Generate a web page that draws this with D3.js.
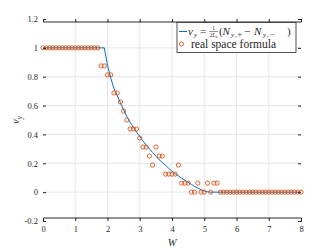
<!DOCTYPE html>
<html>
<head>
<meta charset="utf-8">
<script src="https://cdn.jsdelivr.net/npm/d3@7"></script>
<style>
  body { margin: 0; background: #fff; }
  text { font-family: "Liberation Serif", "DejaVu Serif", serif; fill: #262626; }
</style>
</head>
<body>
<div id="content"></div>
<script>
var xTicks = [0, 1, 2, 3, 4, 5, 6, 7, 8];
var yTicks = [-0.2, 0, 0.2, 0.4, 0.6, 0.8, 1, 1.2];

// real space formula, one point every 0.1 in W
var pointW = [0, 0.1, 0.2, 0.3, 0.4, 0.5, 0.6, 0.7, 0.8, 0.9, 1, 1.1, 1.2, 1.3, 1.4, 1.5, 1.6, 1.7,
              1.8, 1.9, 2, 2.1, 2.2, 2.3, 2.4, 2.5, 2.6, 2.7, 2.8, 2.9, 3, 3.1, 3.2, 3.3, 3.4, 3.5,
              3.6, 3.7, 3.8, 3.9, 4, 4.1, 4.2, 4.3, 4.4, 4.5, 4.6, 4.7, 4.8, 4.9, 5, 5.1, 5.2, 5.3,
              5.4, 5.5, 5.6, 5.7, 5.8, 5.9, 6, 6.1, 6.2, 6.3, 6.4, 6.5, 6.6, 6.7, 6.8, 6.9, 7,
              7.1, 7.2, 7.3, 7.4, 7.5, 7.6, 7.7, 7.8, 7.9, 8];
var pointNu = [1, 1, 1, 1, 1, 1, 1, 1, 1, 1, 1, 1, 1, 1, 1, 1, 1, 1,
               0.875, 0.875, 0.8125, 0.8125, 0.6875, 0.6875, 0.625, 0.5625, 0.5, 0.4375, 0.4375, 0.4375,
               0.375, 0.3125, 0.3125, 0.25, 0.1875, 0.3125, 0.25, 0.25, 0.125, 0.125, 0.125, 0.125,
               0.1875, 0.0625, 0.0625, 0.0625, 0, 0, 0.0625, 0, 0, 0.0625, 0, 0.0625, 0.0625,
               0, 0, 0, 0, 0, 0, 0, 0, 0, 0, 0, 0, 0, 0, 0, 0, 0, 0, 0, 0, 0, 0, 0, 0, 0, 0];

// nu_y = (N+ - N-)/2Lx curve
var lineW  = [0, 1.9, 2, 2.1, 2.2, 2.3, 2.4, 2.5, 2.6, 2.7, 2.8, 2.9, 3, 3.1, 3.2, 3.3, 3.4, 3.5,
              3.6, 3.7, 3.8, 3.9, 4, 4.1, 4.2, 4.3, 4.4, 4.5, 4.6, 4.7, 4.8, 4.9, 5, 5.1, 5.2, 8];
var lineNu = [1, 1, 0.88, 0.79, 0.72, 0.67, 0.62, 0.57, 0.525, 0.485, 0.45, 0.415, 0.385, 0.355,
              0.325, 0.3, 0.275, 0.25, 0.225, 0.205, 0.185, 0.165, 0.145, 0.128, 0.112, 0.097,
              0.082, 0.068, 0.054, 0.04, 0.028, 0.017, 0.008, 0.003, 0, 0];

var width = 332, height = 249;
var m = { left: 43, right: 31, top: 19, bottom: 28 };

var x = d3.scaleLinear().domain([0, 8]).range([m.left, width - m.right]);
var y = d3.scaleLinear().domain([-0.2, 1.2]).range([height - m.bottom, m.top]);

var svg = d3.select("#content").append("svg")
    .attr("width", width)
    .attr("height", height);

// grid
svg.append("g").selectAll("line").data(xTicks.slice(1, -1)).enter().append("line")
    .attr("x1", d => x(d)).attr("x2", d => x(d))
    .attr("y1", y(-0.2)).attr("y2", y(1.2))
    .attr("stroke", "#e6e6e6").attr("stroke-width", 1);
svg.append("g").selectAll("line").data(yTicks.slice(1, -1)).enter().append("line")
    .attr("x1", x(0)).attr("x2", x(8))
    .attr("y1", d => y(d)).attr("y2", d => y(d))
    .attr("stroke", "#e6e6e6").attr("stroke-width", 1);

// curve
svg.append("path")
    .datum(d3.zip(lineW, lineNu))
    .attr("fill", "none")
    .attr("stroke", "#0072BD")
    .attr("stroke-width", 1)
    .attr("d", d3.line().x(d => x(d[0])).y(d => y(d[1])));

// markers
svg.append("g").selectAll("circle").data(d3.zip(pointW, pointNu)).enter().append("circle")
    .attr("cx", d => x(d[0]))
    .attr("cy", d => y(d[1]))
    .attr("r", 2.1)
    .attr("fill", "none")
    .attr("stroke", "#D95319")
    .attr("stroke-width", 0.9);

// axes with ticks on all four sides
var tickLen = 3;
var fmt = d => String(d);
svg.append("g").attr("transform", "translate(0," + y(-0.2) + ")")
    .call(d3.axisBottom(x).tickValues(xTicks).tickSize(-tickLen).tickPadding(5).tickFormat(fmt));
svg.append("g").attr("transform", "translate(0," + y(1.2) + ")")
    .call(d3.axisTop(x).tickValues(xTicks).tickSize(-tickLen).tickFormat(""));
svg.append("g").attr("transform", "translate(" + x(0) + ",0)")
    .call(d3.axisLeft(y).tickValues(yTicks).tickSize(-tickLen).tickPadding(5).tickFormat(fmt));
svg.append("g").attr("transform", "translate(" + x(8) + ",0)")
    .call(d3.axisRight(y).tickValues(yTicks).tickSize(-tickLen).tickFormat(""));

svg.selectAll(".domain").attr("stroke", "#262626").attr("stroke-width", 1);
svg.selectAll(".tick line").attr("stroke", "#262626");
svg.selectAll(".tick text")
    .attr("font-size", 8.5)
    .attr("fill", "#262626");
svg.selectAll(".domain").each(function() {
    // drop the outer tick stubs so the box stays clean
    var d = d3.select(this).attr("d");
    d3.select(this).attr("d", d.replace(/V[-\d.]+/g, "").replace(/H[-\d.]+V/, "H"));
});

// axis labels
svg.append("text")
    .attr("x", x(4)).attr("y", 246)
    .attr("text-anchor", "middle")
    .attr("font-size", 10.5).attr("font-style", "italic")
    .text("W");

var yl = svg.append("text")
    .attr("transform", "translate(19," + y(0.5) + ") rotate(-90)")
    .attr("text-anchor", "middle")
    .attr("font-size", 10.5).attr("font-style", "italic");
yl.append("tspan").text("ν");
yl.append("tspan").attr("font-size", 7.5).attr("dy", 2.5).text("y");

// legend
var lg = svg.append("g");
lg.append("rect")
    .attr("x", 177).attr("y", 22.5).attr("width", 119).attr("height", 30)
    .attr("fill", "#fff").attr("stroke", "#262626").attr("stroke-width", 0.8);
lg.append("line")
    .attr("x1", 179).attr("x2", 187).attr("y1", 31.5).attr("y2", 31.5)
    .attr("stroke", "#0072BD").attr("stroke-width", 1);
lg.append("circle")
    .attr("cx", 181.5).attr("cy", 44).attr("r", 2.1)
    .attr("fill", "none").attr("stroke", "#D95319").attr("stroke-width", 0.9);

function piece(txt, px, py, size, italic) {
    return lg.append("text").attr("x", px).attr("y", py).attr("font-size", size)
        .attr("font-style", italic ? "italic" : "normal").text(txt);
}
piece("ν", 188, 35, 11, true);
piece("y", 194, 37, 7, true);
piece("=", 200, 35, 11, false);
lg.append("text").attr("x", 213.5).attr("y", 30.3).attr("font-size", 5.5)
    .attr("text-anchor", "middle").text("1");
lg.append("line").attr("x1", 209).attr("x2", 218).attr("y1", 31.5).attr("y2", 31.5)
    .attr("stroke", "#262626").attr("stroke-width", 0.5);
var fr = lg.append("text").attr("x", 213.5).attr("y", 37).attr("font-size", 5.5)
    .attr("text-anchor", "middle");
fr.append("tspan").text("2");
fr.append("tspan").attr("font-style", "italic").text("L");
fr.append("tspan").attr("font-style", "italic").attr("font-size", 4).attr("dy", 1).text("x");
piece("(", 219, 35, 11, false);
piece("N", 222.5, 35, 11, true);
piece("y", 231, 37, 7, true);
piece(",", 235, 37, 7, false);
piece("+", 237.5, 37, 8, false);
piece("−", 244, 35, 11, false);
piece("N", 254, 35, 11, true);
piece("y", 263, 37, 7, true);
piece(",", 267, 37, 7, false);
piece("−", 270, 37, 8, false);
piece(")", 287, 35, 11, false);

piece("real space formula", 191, 47.5, 11.5, false).attr("textLength", 85);
</script>
</body>
</html>
